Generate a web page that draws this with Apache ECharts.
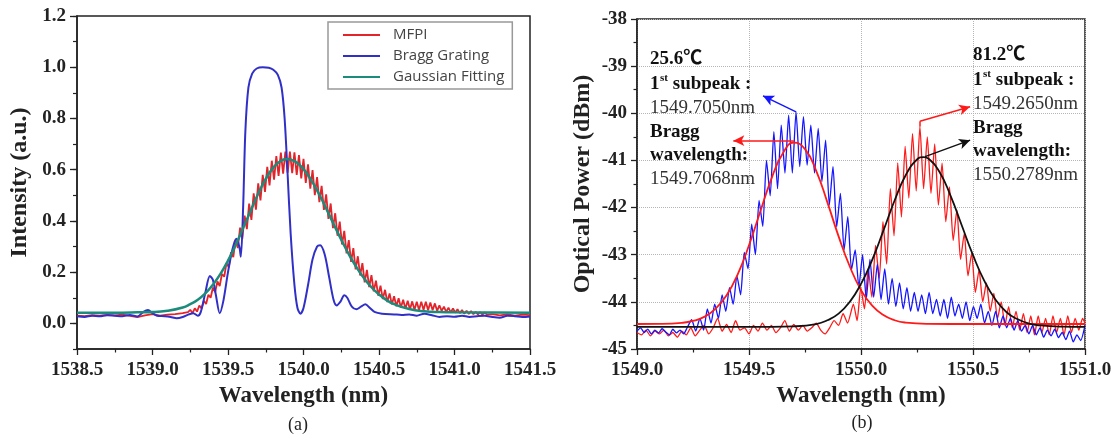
<!DOCTYPE html>
<html><head><meta charset="utf-8">
<script src="https://cdn.jsdelivr.net/npm/echarts@6/dist/echarts.min.js"></script>
<style>html,body{margin:0;padding:0;background:#fff;}#c{width:1115px;height:436px;}</style>
</head><body><div id="c"></div>
<script>
// ---------- Panel (a) data ----------
const aNames = ['MFPI', 'Bragg Grating', 'Gaussian Fitting'];
const aYMajor = [0, 0.2, 0.4, 0.6, 0.8, 1.0, 1.2];
const aMfpi = [[1538.50,.030],[1538.55,.028],[1538.60,.032],[1538.65,.030],[1538.70,.033],[1538.75,.031],[1538.80,.034],[1538.85,.029],[1538.90,.024],[1538.95,.031],[1539.00,.036],[1539.05,.030],[1539.10,.034],[1539.15,.036],[1539.20,.040],[1539.235,.044],
[1539.250,.053],[1539.265,.040],[1539.280,.059],[1539.295,.046],[1539.310,.070],[1539.325,.058],[1539.340,.088],[1539.355,.076],[1539.370,.112],[1539.385,.100],[1539.400,.140],[1539.415,.122],[1539.430,.164],[1539.445,.146],[1539.460,.193],[1539.475,.182],[1539.490,.235],[1539.505,.219],[1539.520,.278],[1539.535,.259],
[1539.550,.327],[1539.565,.294],[1539.580,.374],[1539.595,.331],[1539.610,.421],[1539.625,.368],[1539.640,.468],[1539.655,.404],[1539.670,.508],[1539.685,.444],[1539.700,.547],[1539.715,.480],[1539.730,.580],[1539.745,.513],[1539.760,.611],[1539.775,.539],[1539.790,.635],[1539.805,.561],[1539.820,.653],[1539.835,.576],[1539.850,.667],[1539.865,.585],[1539.880,.671],[1539.895,.588],[1539.910,.671],[1539.925,.586],[1539.940,.668],[1539.955,.580],[1539.970,.657],[1539.985,.566],[1540.000,.642],[1540.015,.548],[1540.030,.621],[1540.045,.526],[1540.060,.598],[1540.075,.501],[1540.090,.571],[1540.105,.473],[1540.120,.537],[1540.135,.443],[1540.150,.504],[1540.165,.408],[1540.180,.468],[1540.195,.372],[1540.210,.430],[1540.225,.342],[1540.240,.397],[1540.255,.308],[1540.270,.361],[1540.285,.273],[1540.300,.325],[1540.315,.240],[1540.330,.294],[1540.345,.211],[1540.360,.262],[1540.375,.187],[1540.390,.235],[1540.405,.160],[1540.420,.209],[1540.435,.142],[1540.450,.188],[1540.465,.125],[1540.480,.167],[1540.495,.108],[1540.510,.147],[1540.525,.095],[1540.540,.131],[1540.555,.083],[1540.570,.117],[1540.585,.074],[1540.600,.106],[1540.615,.067],[1540.630,.098],[1540.645,.062],[1540.660,.092],[1540.675,.057],[1540.690,.088],[1540.705,.054],[1540.720,.086],[1540.735,.052],[1540.750,.085],[1540.765,.052],[1540.780,.085],[1540.795,.052],[1540.810,.085],[1540.825,.051],[1540.840,.082],[1540.855,.051],[1540.870,.078],[1540.885,.049],
[1540.900,.070],[1540.915,.049],[1540.930,.065],[1540.945,.045],[1540.960,.061],[1540.975,.043],[1540.990,.058],[1541.005,.042],[1541.020,.055],[1541.035,.040],[1541.050,.052],[1541.065,.038],[1541.080,.049],[1541.095,.037],[1541.110,.048],[1541.125,.036],[1541.140,.045],[1541.155,.035],[1541.170,.044],[1541.185,.034],[1541.200,.043],[1541.215,.034],
[1541.25,.036],[1541.30,.031],[1541.35,.035],[1541.40,.030],[1541.45,.034],[1541.50,.032]];
const aBragg = [[1538.50,.028],[1538.55,.025],[1538.60,.030],[1538.65,.028],[1538.70,.032],[1538.75,.030],[1538.80,.028],[1538.85,.033],[1538.90,.027],[1538.94,.045],[1538.97,.052],[1539.00,.040],[1539.03,.030],[1539.08,.028],[1539.12,.025],[1539.16,.020],[1539.20,.025],[1539.24,.035],[1539.27,.040],[1539.30,.030],[1539.32,.045],[1539.35,.120],[1539.38,.185],[1539.40,.170],[1539.42,.110],[1539.445,.040],[1539.47,.090],[1539.50,.200],[1539.53,.290],[1539.555,.330],[1539.575,.300],[1539.585,.260],[1539.60,.450],[1539.615,.750],[1539.635,.920],[1539.66,.975],[1539.69,.995],[1539.73,1.000],[1539.77,.998],[1539.80,.990],[1539.83,.970],[1539.855,.920],[1539.875,.800],[1539.895,.580],[1539.915,.350],[1539.94,.150],[1539.96,.060],[1539.98,.038],[1540.00,.060],[1540.03,.150],[1540.06,.250],[1540.09,.300],[1540.11,.305],[1540.14,.270],[1540.17,.180],[1540.20,.090],[1540.22,.070],[1540.245,.085],[1540.27,.110],[1540.29,.100],[1540.32,.065],[1540.35,.055],[1540.38,.065],[1540.41,.075],[1540.44,.060],[1540.47,.045],[1540.52,.038],[1540.60,.035],[1540.65,.033],[1540.70,.035],[1540.75,.030],[1540.80,.038],[1540.85,.032],[1540.90,.025],[1540.95,.028],[1541.00,.026],[1541.05,.030],[1541.10,.025],[1541.15,.028],[1541.20,.030],[1541.25,.025],[1541.30,.022],[1541.35,.030],[1541.40,.028],[1541.45,.025],[1541.50,.027]];
const aGauss = [[1538.5,.042],[1538.8,.042],[1538.9,.043],[1539.0,.044],[1539.1,.049],[1539.2,.062],[1539.25,.075],[1539.3,.092],[1539.35,.117],[1539.4,.151],[1539.45,.193],[1539.5,.245],[1539.55,.305],[1539.6,.372],[1539.65,.440],[1539.7,.506],[1539.75,.564],[1539.8,.608],[1539.85,.635],[1539.89,.642],[1539.95,.630],[1540.0,.602],[1540.05,.560],[1540.1,.508],[1540.15,.449],[1540.2,.387],[1540.25,.327],[1540.3,.270],[1540.35,.220],[1540.4,.177],[1540.45,.141],[1540.5,.113],[1540.55,.091],[1540.6,.075],[1540.7,.056],[1540.8,.047],[1540.9,.044],[1541.0,.043],[1541.5,.042]];

// ---------- Panel (b) data ----------
const bData25 = [[1549.000,-44.62],[1549.016,-44.55],[1549.032,-44.65],[1549.048,-44.58],[1549.064,-44.68],[1549.080,-44.60],[1549.096,-44.66],[1549.112,-44.57],[1549.128,-44.64],[1549.144,-44.70],[1549.160,-44.58],[1549.176,-44.66],[1549.192,-44.60],[1549.208,-44.68],[1549.224,-44.55],[1549.244,-44.38],[1549.262,-44.62],
[1549.281,-44.35],[1549.2975,-44.60],[1549.314,-44.15],[1549.3305,-44.45],[1549.347,-44.05],[1549.3635,-44.35],[1549.380,-43.85],[1549.3965,-44.20],[1549.413,-43.70],[1549.4295,-44.05],[1549.446,-43.45],[1549.4625,-43.85],[1549.479,-42.95],[1549.4955,-43.30],[1549.512,-42.35],[1549.5285,-43.00],[1549.545,-41.85],[1549.5615,-42.40],[1549.578,-41.00],[1549.5945,-41.75],[1549.611,-40.39],[1549.6275,-41.60],[1549.644,-40.25],[1549.6605,-41.27],[1549.677,-40.04],[1549.6935,-41.27],[1549.710,-39.97],[1549.7265,-41.13],[1549.743,-40.07],[1549.7595,-41.10],[1549.776,-40.25],[1549.7925,-41.27],[1549.809,-40.32],[1549.8255,-41.45],[1549.842,-40.57],[1549.8585,-41.95],[1549.875,-41.13],[1549.8915,-42.41],[1549.908,-41.70],[1549.9245,-42.90],[1549.941,-42.19],[1549.9575,-43.32],[1549.974,-42.90],[1549.9905,-43.68],[1550.007,-43.00],[1550.0235,-43.95],[1550.040,-43.10],[1550.0565,-43.90],[1550.073,-43.20],[1550.0895,-43.95],[1550.106,-43.30],[1550.1225,-44.05],[1550.139,-43.50],[1550.1555,-44.10],[1550.172,-43.60],[1550.1885,-44.15],[1550.205,-43.70],[1550.2215,-44.20],[1550.238,-43.80],[1550.2545,-44.20],[1550.271,-43.85],[1550.2875,-44.25],[1550.304,-43.80],[1550.3205,-44.25],[1550.337,-43.95],[1550.3535,-44.30],[1550.370,-43.95],[1550.3865,-44.35],[1550.403,-43.90],[1550.4195,-44.30],[1550.436,-44.05],[1550.4525,-44.35],[1550.469,-44.00],[1550.4855,-44.40],[1550.502,-44.10],[1550.5185,-44.35],[1550.535,-44.05],[1550.5515,-44.45],[1550.568,-44.20],[1550.5845,-44.50],[1550.601,-44.20],[1550.6175,-44.55],[1550.634,-44.30],[1550.6505,-44.55],[1550.667,-44.35],[1550.6835,-44.60],[1550.700,-44.40],[1550.7165,-44.62],[1550.733,-44.50],[1550.7495,-44.68],[1550.766,-44.50],[1550.7825,-44.70],[1550.799,-44.55],[1550.8155,-44.75],[1550.832,-44.60],[1550.8485,-44.72],[1550.865,-44.58],[1550.8815,-44.76],[1550.898,-44.65],[1550.9145,-44.80],[1550.931,-44.62],[1550.9475,-44.85],[1550.964,-44.70],[1550.9805,-44.82],[1551.000,-44.50]];
const bData81 = [[1549.00,-44.65],[1549.02,-44.70],[1549.04,-44.60],[1549.06,-44.72],[1549.08,-44.62],[1549.10,-44.68],[1549.12,-44.60],[1549.14,-44.72],[1549.16,-44.65],[1549.18,-44.75],[1549.20,-44.62],[1549.22,-44.70],[1549.24,-44.55],[1549.26,-44.72],[1549.28,-44.60],[1549.30,-44.50],[1549.32,-44.68],[1549.34,-44.55],[1549.36,-44.35],[1549.38,-44.62],[1549.40,-44.48],[1549.42,-44.65],[1549.44,-44.40],[1549.46,-44.60],[1549.48,-44.55],[1549.50,-44.68],[1549.52,-44.50],[1549.54,-44.62],[1549.56,-44.45],[1549.58,-44.60],[1549.60,-44.50],[1549.62,-44.65],[1549.64,-44.55],[1549.66,-44.40],[1549.68,-44.62],[1549.70,-44.48],[1549.72,-44.60],[1549.74,-44.50],[1549.76,-44.62],[1549.78,-44.55],[1549.80,-44.45],[1549.82,-44.60],[1549.84,-44.68],[1549.86,-44.55],[1549.88,-44.40],[1549.90,-44.50],[1549.92,-44.25],[1549.94,-44.45],
[1549.966,-44.05],[1549.9825,-44.40],[1549.999,-43.70],[1550.0155,-44.15],[1550.032,-43.30],[1550.0485,-43.90],[1550.065,-42.80],[1550.0815,-43.50],[1550.098,-42.30],[1550.1145,-43.20],[1550.131,-41.60],[1550.1475,-42.60],[1550.164,-41.05],[1550.1805,-42.20],[1550.197,-40.70],[1550.2135,-41.80],[1550.230,-40.43],[1550.2465,-41.65],[1550.263,-40.28],[1550.2795,-41.60],[1550.296,-40.50],[1550.3125,-41.70],[1550.329,-40.65],[1550.3455,-41.95],[1550.362,-41.06],[1550.3785,-42.30],[1550.395,-41.56],[1550.4115,-42.70],[1550.428,-42.05],[1550.4445,-43.10],[1550.461,-42.55],[1550.4775,-43.45],[1550.494,-42.97],[1550.5105,-43.80],[1550.527,-43.32],[1550.5435,-44.00],[1550.560,-43.60],[1550.5765,-44.20],[1550.593,-43.82],[1550.6095,-44.35],[1550.626,-44.00],[1550.6425,-44.50],[1550.659,-44.10],[1550.6755,-44.55],[1550.692,-44.20],[1550.7085,-44.60],[1550.725,-44.25],[1550.7415,-44.65],[1550.758,-44.30],[1550.7745,-44.70],[1550.791,-44.30],[1550.8075,-44.65],[1550.824,-44.35],[1550.8405,-44.70],[1550.857,-44.30],[1550.8735,-44.65],[1550.890,-44.35],[1550.9065,-44.70],[1550.923,-44.30],[1550.9395,-44.65],[1550.956,-44.35],[1550.9725,-44.60],[1550.989,-44.35],[1551.000,-44.45]];
const bFit25 = [[1549.0,-44.47],[1549.1,-44.467],[1549.2,-44.445],[1549.25,-44.405],[1549.3,-44.318],[1549.35,-44.15],[1549.4,-43.86],[1549.45,-43.41],[1549.5,-42.80],[1549.55,-42.09],[1549.6,-41.39],[1549.65,-40.86],[1549.7,-40.62],[1549.75,-40.76],[1549.8,-41.22],[1549.85,-41.89],[1549.9,-42.61],[1549.95,-43.25],[1550.0,-43.75],[1550.05,-44.08],[1550.1,-44.28],[1550.15,-44.39],[1550.2,-44.44],[1550.3,-44.466],[1550.5,-44.47],[1551.0,-44.47]];
const bFit81 = [[1549.0,-44.53],[1549.6,-44.53],[1549.7,-44.52],[1549.8,-44.47],[1549.85,-44.39],[1549.9,-44.25],[1549.95,-44.00],[1550.0,-43.62],[1550.05,-43.11],[1550.1,-42.49],[1550.15,-41.85],[1550.2,-41.31],[1550.25,-40.98],[1550.28,-40.93],[1550.3,-40.96],[1550.35,-41.24],[1550.4,-41.75],[1550.45,-42.38],[1550.5,-43.01],[1550.55,-43.55],[1550.6,-43.95],[1550.65,-44.22],[1550.7,-44.37],[1550.75,-44.46],[1550.8,-44.50],[1550.9,-44.525],[1551.0,-44.53]];
// annotation arrows (data coordinates): [start, end]
const arrowBlue = [[1549.710,-39.97],[1549.5625,-39.63]];
const arrowRedL = [[1549.700,-40.58],[1549.43,-40.58]];
const arrowRedR0 = [[1550.263,-40.28],[1550.263,-40.17]];
const arrowRedR = [[1550.263,-40.17],[1550.487,-39.86]];
const arrowBlack = [[1550.286,-40.92],[1550.487,-40.57]];

const SERIF = '"Liberation Serif","Times New Roman","Noto Sans CJK SC",serif';
const AX = '#222';

function xAxisCfg(grid, min, max){
  return {gridIndex:grid, type:'value', min:min, max:max, interval:0.5,
    axisLine:{show:true, onZero:false, lineStyle:{color:AX, width:1.5}},
    axisTick:{show:true, length:6, lineStyle:{color:AX, width:1.3}},
    minorTick:{show:true, splitNumber:2, length:3.5, lineStyle:{color:AX, width:1.2}},
    axisLabel:{formatter:v=>v.toFixed(1), fontFamily:SERIF, fontWeight:'bold', fontSize:19, color:AX, margin:12},
    splitLine:{show:grid===1, lineStyle:{color:'#b5b5b5', type:'dotted', width:1}},
    name:'Wavelength (nm)', nameLocation:'middle', nameGap:34,
    nameTextStyle:{fontFamily:SERIF, fontWeight:'bold', fontSize:23, color:AX}};
}
function arrow(pts, color, head){
  return [{coord:pts[0], symbol:'none'}, {coord:pts[1], symbol: head ? 'arrow' : 'none', lineStyle:{color:color}}];
}
function mark(list){
  return {silent:true, symbolSize:[8,11], label:{show:false}, emphasis:{disabled:true},
    lineStyle:{type:'solid', width:1.5}, data:list};
}

const chart = echarts.init(document.getElementById('c'), null, {renderer:'canvas'});
const opt = {
  animation:false,
  backgroundColor:'#fff',
  grid:[{left:77, top:16, width:453, height:333, show:true, borderColor:AX, borderWidth:1.5},
        {left:637, top:19, width:448, height:330, show:true, borderColor:AX, borderWidth:1.5}],
  legend:{data:aNames, orient:'vertical', left:328, top:22, padding:[5,8,4,15], itemGap:5,
    itemWidth:37, itemHeight:2, icon:'rect', borderColor:'#999', borderWidth:1.5, backgroundColor:'#fff',
    textStyle:{fontFamily:'"Open Sans","Liberation Sans",sans-serif', fontSize:15, color:'#444', padding:[0,0,0,8], lineHeight:16}},
  xAxis:[xAxisCfg(0,1538.5,1541.5), xAxisCfg(1,1549,1551)],
  yAxis:[
    {gridIndex:0, type:'value', min:-0.1, max:1.2, interval:0.1, position:'left',
     axisLine:{show:true, onZero:false, lineStyle:{color:AX, width:1.5}},
     axisTick:{show:true, length:4, lineStyle:{color:AX, width:1.2}},
     axisLabel:{formatter:v=>(Math.round(v*10)%2===0 ? v.toFixed(1) : ''), fontFamily:SERIF, fontWeight:'bold', fontSize:19, color:AX, margin:11},
     splitLine:{show:false},
     name:'Intensity (a.u.)', nameLocation:'middle', nameGap:45,
     nameTextStyle:{fontFamily:SERIF, fontWeight:'bold', fontSize:24, color:AX}},
    {gridIndex:0, type:'value', min:-0.1, max:1.2, position:'left', offset:0,
     axisLine:{show:false}, axisLabel:{show:false}, splitLine:{show:false},
     axisTick:{show:true, length:7, customValues:aYMajor, lineStyle:{color:AX, width:1.3}}},
    {gridIndex:1, type:'value', min:-45, max:-38, interval:1, position:'left',
     axisLine:{show:true, onZero:false, lineStyle:{color:AX, width:1.5}},
     axisTick:{show:true, length:6, lineStyle:{color:AX, width:1.3}},
     minorTick:{show:true, splitNumber:2, length:3.5, lineStyle:{color:AX, width:1.2}},
     axisLabel:{formatter:v=>String(v), fontFamily:SERIF, fontWeight:'bold', fontSize:19, color:AX, margin:10},
     splitLine:{show:true, lineStyle:{color:'#b5b5b5', type:'dotted', width:1}},
     name:'Optical Power (dBm)', nameLocation:'middle', nameGap:42,
     nameTextStyle:{fontFamily:SERIF, fontWeight:'bold', fontSize:24, color:AX}}
  ],
  series:[
    {name:aNames[0], type:'line', xAxisIndex:0, yAxisIndex:0, data:aMfpi, symbol:'none', color:'#e3242b', lineStyle:{width:1.8}, z:2},
    {name:aNames[1], type:'line', xAxisIndex:0, yAxisIndex:0, data:aBragg, symbol:'none', smooth:0.3, color:'#3030c8', lineStyle:{width:2}, z:3},
    {name:aNames[2], type:'line', xAxisIndex:0, yAxisIndex:0, data:aGauss, symbol:'none', smooth:0.5, color:'#1b8c7c', lineStyle:{width:2.5}, z:4},
    {name:'81.2 data', type:'line', xAxisIndex:1, yAxisIndex:2, data:bData81, symbol:'none', smooth:0.2, color:'#ff1a1a', lineStyle:{width:1.3}, z:2,
     markLine:mark([arrow(arrowRedR0,'#ff1a1a',false), arrow(arrowRedR,'#ff1a1a',true)])},
    {name:'25.6 data', type:'line', xAxisIndex:1, yAxisIndex:2, data:bData25, symbol:'none', smooth:0.2, color:'#1414ff', lineStyle:{width:1.3}, z:3,
     markLine:mark([arrow(arrowBlue,'#1414ff',true)])},
    {name:'25.6 fit', type:'line', xAxisIndex:1, yAxisIndex:2, data:bFit25, symbol:'none', smooth:0.5, color:'#ff1a1a', lineStyle:{width:1.8}, z:4,
     markLine:mark([arrow(arrowRedL,'#ff1a1a',true)])},
    {name:'81.2 fit', type:'line', xAxisIndex:1, yAxisIndex:2, data:bFit81, symbol:'none', smooth:0.5, color:'#111', lineStyle:{width:1.8}, z:5,
     markLine:mark([arrow(arrowBlack,'#111',true)])}
  ],
  graphic:[]
};

const B = 'bold 19px ' + SERIF, R = '19px ' + SERIF;
function txt(s, x, y, font, fill){
  return {type:'text', x:x, y:y, z:100, silent:true, style:{text:s, font:font, fill:fill||'#111', textAlign:'left', textVerticalAlign:'middle'}};
}
function block(x, y0, temp, sub, bragg){
  const g = [];
  g.push(txt(temp, x, y0, B));
  g.push(txt('1', x, y0+25, B));
  g.push(txt('st', x+10, y0+19, 'bold 11px ' + SERIF));
  g.push(txt(' subpeak :', x+18, y0+25, B));
  g.push(txt(sub, x, y0+49, R, '#333'));
  g.push(txt('Bragg', x, y0+73, B));
  g.push(txt('wavelength:', x, y0+96, B));
  g.push(txt(bragg, x, y0+120, R, '#333'));
  return g;
}
opt.graphic = [].concat(
  block(650, 59, '25.6℃', '1549.7050nm', '1549.7068nm'),
  block(973, 55, '81.2℃', '1549.2650nm', '1550.2789nm'),
  [{type:'text', x:298, y:425, style:{text:'(a)', font:'18px ' + SERIF, fill:'#222', textAlign:'center', textVerticalAlign:'middle'}},
   {type:'text', x:862, y:423, style:{text:'(b)', font:'18px ' + SERIF, fill:'#222', textAlign:'center', textVerticalAlign:'middle'}}]
);
chart.setOption(opt);
</script></body></html>
